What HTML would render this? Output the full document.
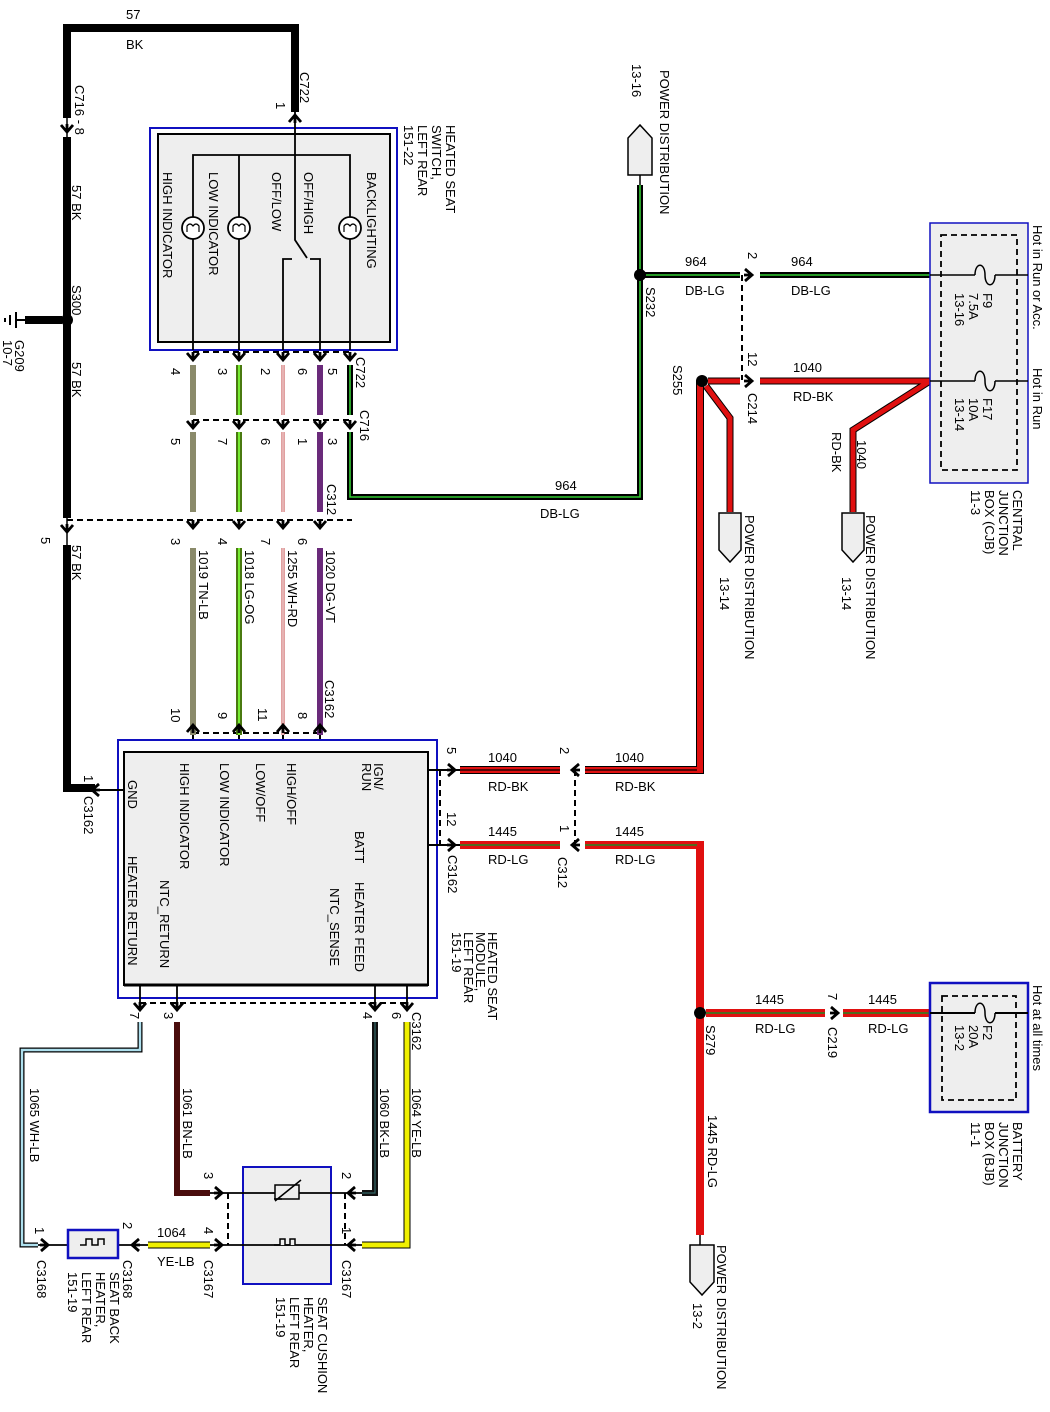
<!DOCTYPE html>
<html><head><meta charset="utf-8"><style>
html,body{margin:0;padding:0;background:#fff}
svg{display:block}
text{font-family:"Liberation Sans",sans-serif;font-size:13px;fill:#000}
</style></head><body>
<svg width="1050" height="1412" viewBox="0 0 1050 1412" xmlns="http://www.w3.org/2000/svg">
<defs>
<path id="ad" d="M-6,-7 L0,0 L6,-7 M0,0 V-8" fill="none" stroke="#000" stroke-width="2.8"/>
</defs>
<g fill="none" stroke-linejoin="miter">
<!-- 57 BK loop -->
<path d="M67,118 V28 H295 V112" stroke="#000" stroke-width="8"/>
<path d="M67,137 V518" stroke="#000" stroke-width="8"/>
<path d="M67,545 V788 H95" stroke="#000" stroke-width="8"/>
<path d="M67,118 V137 M67,518 V545" stroke="#000" stroke-width="1.5"/>
<path d="M25,320 H62" stroke="#000" stroke-width="8"/>
<path d="M16,320 H26 M16,312 V328 M10,315 V325 M5,318 V322" stroke="#000" stroke-width="2"/>
<!-- switch box -->
<rect x="150" y="128" width="247" height="222" fill="#fff" stroke="#1010c0" stroke-width="2"/>
<rect x="158" y="134" width="232" height="208" fill="#eeeeee" stroke="#000" stroke-width="2"/>
<path d="M193,350 V155 H350 V350 M239,155 V350 M295,112 V240 L307,258 M283,350 V259 H292 M320,350 V259 H310" stroke="#000" stroke-width="1.8"/>
<circle cx="193" cy="228" r="11" fill="#fff" stroke="#000" stroke-width="1.8"/>
<circle cx="239" cy="228" r="11" fill="#fff" stroke="#000" stroke-width="1.8"/>
<circle cx="350" cy="228" r="11" fill="#fff" stroke="#000" stroke-width="1.8"/>
<path d="M187,232 V226 Q190,222 193,226 Q196,222 199,226 V232 M233,232 V226 Q236,222 239,226 Q242,222 245,226 V232 M344,232 V226 Q347,222 350,226 Q353,222 356,226 V232" stroke="#000" stroke-width="1.2"/>
<!-- dashed connectors -->
<path d="M193,352 H352 M193,420 H352 M67,520 H352 M193,733 H322 M440,770 V845 M575,770 V845 M140,1003 H408 M742,275 V380 M228,1193 V1245 M345,1193 V1245" stroke="#000" stroke-width="2" stroke-dasharray="6,4"/>
<!-- switch to module wires -->
<path d="M193,365 V415 M193,432 V512 M193,548 V735" stroke="#8a8a6a" stroke-width="6"/>
<path d="M239,365 V415 M239,432 V512 M239,548 V735" stroke="#4a7a10" stroke-width="6"/>
<path d="M239,365 V415 M239,432 V512 M239,548 V735" stroke="#77ee33" stroke-width="2"/>
<path d="M283,365 V415 M283,432 V512 M283,548 V735" stroke="#c04040" stroke-width="3"/>
<path d="M283,365 V415 M283,432 V512 M283,548 V735" stroke="#fff" stroke-width="1.2"/>
<path d="M320,365 V415 M320,432 V512 M320,548 V735" stroke="#6a2a7a" stroke-width="6"/>
<path d="M350,365 V415 M350,432 V497 H640 V185" stroke="#000" stroke-width="6"/>
<path d="M350,365 V415 M350,432 V497 H640 V185" stroke="#33cc33" stroke-width="1.6"/>
<path d="M640,175 V185" stroke="#000" stroke-width="1.5"/>
<path d="M193,735 V752 M239,735 V752 M283,735 V752 M320,735 V752" stroke="#000" stroke-width="2"/>
<!-- module -->
<rect x="118" y="740" width="319" height="258" fill="#fff" stroke="#1010c0" stroke-width="2"/>
<rect x="124" y="752" width="304" height="233" fill="#eeeeee" stroke="#000" stroke-width="2"/>
<path d="M124,985 H428" stroke="#000" stroke-width="3"/>
<path d="M124,790 H95" stroke="#000" stroke-width="2"/>
<path d="M428,770 H460 M428,845 H460" stroke="#000" stroke-width="2"/>
<!-- red wires -->
<path d="M460,770 H560 M585,770 H700 V381" stroke="#000" stroke-width="8"/>
<path d="M460,770 H560 M585,770 H700 V381" stroke="#e01010" stroke-width="6"/>
<path d="M460,770 H560 M585,770 H697" stroke="#000" stroke-width="1.2"/>
<path d="M460,845 H560 M585,845 H700 V1235" stroke="#e01010" stroke-width="8"/>
<path d="M460,845 H560 M585,845 H697" stroke="#228822" stroke-width="1.6"/>
<path d="M706,1013 H825 M843,1013 H930" stroke="#e01010" stroke-width="8"/>
<path d="M706,1013 H825 M843,1013 H930" stroke="#228822" stroke-width="1.6"/>
<path d="M700,1235 V1245" stroke="#000" stroke-width="1.5"/>
<!-- top right -->
<path d="M645,275 H740 M760,275 H930" stroke="#000" stroke-width="6"/>
<path d="M645,275 H740 M760,275 H930" stroke="#33cc33" stroke-width="1.6"/>
<path d="M708,381 H740 M760,381 H930 L853,430 V512" stroke="#000" stroke-width="7"/>
<path d="M708,381 H740 M760,381 H930 L853,430 V512" stroke="#e01010" stroke-width="5"/>
<path d="M706,386 L730,418 V512" stroke="#000" stroke-width="7"/>
<path d="M706,386 L730,418 V512" stroke="#e01010" stroke-width="5"/>
<!-- CJB -->
<rect x="930" y="223" width="98" height="260" fill="#eeeeee" stroke="#1010c0" stroke-width="1.5"/>
<rect x="941" y="235" width="76" height="235" stroke="#000" stroke-width="1.8" stroke-dasharray="6,4"/>
<path d="M930,275 H975 M995,275 H1028 M930,381 H975 M995,381 H1028" stroke="#000" stroke-width="1.5"/>
<path d="M975,275 C975,262 985,262 985,275 C985,288 995,288 995,275 M975,381 C975,368 985,368 985,381 C985,394 995,394 995,381" stroke="#000" stroke-width="1.5"/>
<!-- BJB -->
<rect x="930" y="983" width="98" height="129" fill="#eeeeee" stroke="#1010c0" stroke-width="2.5"/>
<rect x="942" y="996" width="74" height="104" stroke="#000" stroke-width="1.8" stroke-dasharray="6,4"/>
<path d="M930,1013 H975 M995,1013 H1028" stroke="#000" stroke-width="2"/>
<path d="M975,1013 C975,1000 985,1000 985,1013 C985,1026 995,1026 995,1013" stroke="#000" stroke-width="1.5"/>
<!-- power distribution shapes -->
<path d="M628,175 V138 L640,125 L652,138 V175 Z" fill="#eeeeee" stroke="#000" stroke-width="1.5"/>
<path d="M719,513 V550 L730,562 L741,550 V513 Z" fill="#eeeeee" stroke="#000" stroke-width="1.5"/>
<path d="M842,513 V550 L853,562 L864,550 V513 Z" fill="#eeeeee" stroke="#000" stroke-width="1.5"/>
<path d="M690,1245 V1282 L702,1295 L714,1282 V1245 Z" fill="#eeeeee" stroke="#000" stroke-width="1.5"/>
<!-- bottom wires -->
<path d="M140,985 V1005 M177,985 V1005 M375,985 V1005 M407,985 V1005" stroke="#000" stroke-width="1.8"/>
<path d="M140,1022 V1050 H22 V1245 H38" stroke="#000" stroke-width="5"/>
<path d="M140,1022 V1050 H22 V1245 H38" stroke="#aee0ee" stroke-width="2.5"/>
<path d="M177,1022 V1193 H210" stroke="#4a0d0d" stroke-width="6"/>
<path d="M375,1022 V1193 H362" stroke="#111" stroke-width="6"/>
<path d="M375,1022 V1193 H362" stroke="#336666" stroke-width="1.2"/>
<path d="M407,1022 V1245 H362" stroke="#000" stroke-width="7"/>
<path d="M407,1022 V1245 H362" stroke="#f0f000" stroke-width="5"/>
<path d="M148,1245 H210" stroke="#000" stroke-width="7"/>
<path d="M148,1245 H210" stroke="#f0f000" stroke-width="5"/>
<rect x="243" y="1167" width="88" height="117" fill="#eeeeee" stroke="#1010c0" stroke-width="2"/>
<path d="M210,1193 H362 M210,1245 H362 M38,1245 H148" stroke="#000" stroke-width="1.8"/>
<rect x="275" y="1185" width="24" height="14" fill="#eeeeee" stroke="#000" stroke-width="1.5"/>
<path d="M275,1201 L301,1180 M274,1199 H282" stroke="#000" stroke-width="1.5"/>
<path d="M274,1245 H280 V1239 H285 V1245 H290 V1239 H295 V1245" stroke="#000" stroke-width="1.5" fill="#eeeeee"/>
<rect x="68" y="1230" width="50" height="28" fill="#eeeeee" stroke="#1010c0" stroke-width="2.5"/>
<path d="M80,1245 H86 V1239 H92 V1245 H98 V1239 H104 V1245" stroke="#000" stroke-width="1.5"/>
</g>
<!-- dots -->
<circle cx="67" cy="320" r="6"/><circle cx="640" cy="275" r="6"/><circle cx="702" cy="381" r="6"/><circle cx="700" cy="1013" r="6"/>
<!-- arrows -->
<g>
<use href="#ad" x="67" y="132"/><use href="#ad" x="67" y="532"/>
<use href="#ad" x="193" y="360"/><use href="#ad" x="239" y="360"/><use href="#ad" x="283" y="360"/><use href="#ad" x="320" y="360"/><use href="#ad" x="350" y="360"/>
<use href="#ad" x="193" y="428"/><use href="#ad" x="239" y="428"/><use href="#ad" x="283" y="428"/><use href="#ad" x="320" y="428"/><use href="#ad" x="350" y="428"/>
<use href="#ad" x="193" y="528"/><use href="#ad" x="239" y="528"/><use href="#ad" x="283" y="528"/><use href="#ad" x="320" y="528"/>
<use href="#ad" x="140" y="1010"/><use href="#ad" x="177" y="1010"/><use href="#ad" x="375" y="1010"/><use href="#ad" x="407" y="1010"/>
<use href="#ad" transform="translate(295,115) rotate(180)"/>
<use href="#ad" transform="translate(193,725) rotate(180)"/><use href="#ad" transform="translate(239,725) rotate(180)"/><use href="#ad" transform="translate(283,725) rotate(180)"/><use href="#ad" transform="translate(320,725) rotate(180)"/>
<use href="#ad" transform="translate(92,790) rotate(90)"/>
<use href="#ad" transform="translate(455,770) rotate(-90)"/><use href="#ad" transform="translate(455,845) rotate(-90)"/>
<use href="#ad" transform="translate(572,770) rotate(90)"/><use href="#ad" transform="translate(572,845) rotate(90)"/>
<use href="#ad" transform="translate(752,275) rotate(-90)"/><use href="#ad" transform="translate(752,381) rotate(-90)"/>
<use href="#ad" transform="translate(838,1013) rotate(-90)"/>
<use href="#ad" transform="translate(48,1245) rotate(-90)"/><use href="#ad" transform="translate(132,1245) rotate(90)"/>
<use href="#ad" transform="translate(222,1193) rotate(-90)"/><use href="#ad" transform="translate(222,1245) rotate(-90)"/>
<use href="#ad" transform="translate(348,1193) rotate(90)"/><use href="#ad" transform="translate(348,1245) rotate(90)"/>
</g>
<!-- horizontal text -->
<text x="126" y="19">57</text><text x="126" y="49">BK</text>
<text x="555" y="490">964</text><text x="540" y="518">DB-LG</text>
<text x="685" y="266">964</text><text x="685" y="295">DB-LG</text>
<text x="791" y="266">964</text><text x="791" y="295">DB-LG</text>
<text x="793" y="372">1040</text><text x="793" y="401">RD-BK</text>
<text x="488" y="762">1040</text><text x="488" y="791">RD-BK</text>
<text x="615" y="762">1040</text><text x="615" y="791">RD-BK</text>
<text x="488" y="836">1445</text><text x="488" y="864">RD-LG</text>
<text x="615" y="836">1445</text><text x="615" y="864">RD-LG</text>
<text x="755" y="1004">1445</text><text x="755" y="1033">RD-LG</text>
<text x="868" y="1004">1445</text><text x="868" y="1033">RD-LG</text>
<text x="157" y="1237">1064</text><text x="157" y="1266">YE-LB</text>
<g>
<text transform="translate(446,125) rotate(90)"><tspan x="0">HEATED SEAT</tspan><tspan x="0" dy="14">SWITCH,</tspan><tspan x="0" dy="14">LEFT REAR</tspan><tspan x="0" dy="14">151-22</tspan></text>
<text transform="translate(163,172) rotate(90)">HIGH INDICATOR</text>
<text transform="translate(209,172) rotate(90)">LOW INDICATOR</text>
<text transform="translate(272,172) rotate(90)">OFF/LOW</text>
<text transform="translate(304,172) rotate(90)">OFF/HIGH</text>
<text transform="translate(367,172) rotate(90)">BACKLIGHTING</text>
<text transform="translate(75,85) rotate(90)">C716 - 8</text>
<text transform="translate(72,185) rotate(90)">57  BK</text>
<text transform="translate(72,285) rotate(90)">S300</text>
<text transform="translate(72,362) rotate(90)">57  BK</text>
<text transform="translate(72,545) rotate(90)">57  BK</text>
<text transform="translate(41,537) rotate(90)">5</text>
<text transform="translate(15,340) rotate(90)"><tspan x="0">G209</tspan><tspan x="0" dy="12">10-7</tspan></text>
<text transform="translate(300,72) rotate(90)">C722</text>
<text transform="translate(276,102) rotate(90)">1</text>
<text transform="translate(171,368) rotate(90)">4</text><text transform="translate(218,368) rotate(90)">3</text><text transform="translate(261,368) rotate(90)">2</text><text transform="translate(298,368) rotate(90)">6</text><text transform="translate(328,368) rotate(90)">5</text>
<text transform="translate(356,357) rotate(90)">C722</text>
<text transform="translate(171,438) rotate(90)">5</text><text transform="translate(218,438) rotate(90)">7</text><text transform="translate(261,438) rotate(90)">6</text><text transform="translate(298,438) rotate(90)">1</text><text transform="translate(328,438) rotate(90)">3</text>
<text transform="translate(360,410) rotate(90)">C716</text>
<text transform="translate(171,538) rotate(90)">3</text><text transform="translate(218,538) rotate(90)">4</text><text transform="translate(261,538) rotate(90)">7</text><text transform="translate(298,538) rotate(90)">6</text>
<text transform="translate(327,484) rotate(90)">C312</text>
<text transform="translate(199,550) rotate(90)">1019    TN-LB</text>
<text transform="translate(245,550) rotate(90)">1018    LG-OG</text>
<text transform="translate(288,550) rotate(90)">1255    WH-RD</text>
<text transform="translate(326,550) rotate(90)">1020    DG-VT</text>
<text transform="translate(325,680) rotate(90)">C3162</text>
<text transform="translate(171,708) rotate(90)">10</text><text transform="translate(218,712) rotate(90)">9</text><text transform="translate(258,708) rotate(90)">11</text><text transform="translate(298,712) rotate(90)">8</text>
<text transform="translate(84,775) rotate(90)">1</text>
<text transform="translate(84,796) rotate(90)">C3162</text>
<text transform="translate(128,780) rotate(90)">GND</text>
<text transform="translate(128,856) rotate(90)">HEATER RETURN</text>
<text transform="translate(160,880) rotate(90)">NTC_RETURN</text>
<text transform="translate(180,763) rotate(90)">HIGH INDICATOR</text>
<text transform="translate(220,763) rotate(90)">LOW INDICATOR</text>
<text transform="translate(256,763) rotate(90)">LOW/OFF</text>
<text transform="translate(287,763) rotate(90)">HIGH/OFF</text>
<text transform="translate(374,763) rotate(90)"><tspan x="0">IGN/</tspan><tspan x="0" dy="12">RUN</tspan></text>
<text transform="translate(355,831) rotate(90)">BATT</text>
<text transform="translate(355,882) rotate(90)">HEATER FEED</text>
<text transform="translate(330,888) rotate(90)">NTC_SENSE</text>
<text transform="translate(447,747) rotate(90)">5</text>
<text transform="translate(447,812) rotate(90)">12</text>
<text transform="translate(448,855) rotate(90)">C3162</text>
<text transform="translate(560,747) rotate(90)">2</text>
<text transform="translate(560,825) rotate(90)">1</text>
<text transform="translate(558,857) rotate(90)">C312</text>
<text transform="translate(488,932) rotate(90)"><tspan x="0">HEATED SEAT</tspan><tspan x="0" dy="12">MODULE,</tspan><tspan x="0" dy="12">LEFT REAR</tspan><tspan x="0" dy="12">151-19</tspan></text>
<text transform="translate(130,1012) rotate(90)">7</text><text transform="translate(164,1012) rotate(90)">3</text><text transform="translate(363,1012) rotate(90)">4</text><text transform="translate(392,1012) rotate(90)">6</text>
<text transform="translate(412,1012) rotate(90)">C3162</text>
<text transform="translate(30,1088) rotate(90)">1065      WH-LB</text>
<text transform="translate(183,1088) rotate(90)">1061      BN-LB</text>
<text transform="translate(380,1088) rotate(90)">1060      BK-LB</text>
<text transform="translate(412,1088) rotate(90)">1064      YE-LB</text>
<text transform="translate(204,1172) rotate(90)">3</text><text transform="translate(342,1172) rotate(90)">2</text>
<text transform="translate(35,1227) rotate(90)">1</text><text transform="translate(123,1222) rotate(90)">2</text><text transform="translate(204,1227) rotate(90)">4</text><text transform="translate(342,1227) rotate(90)">1</text>
<text transform="translate(37,1260) rotate(90)">C3168</text>
<text transform="translate(123,1260) rotate(90)">C3168</text>
<text transform="translate(204,1260) rotate(90)">C3167</text>
<text transform="translate(342,1260) rotate(90)">C3167</text>
<text transform="translate(110,1272) rotate(90)"><tspan x="0">SEAT BACK</tspan><tspan x="0" dy="14">HEATER,</tspan><tspan x="0" dy="14">LEFT REAR</tspan><tspan x="0" dy="14">151-19</tspan></text>
<text transform="translate(318,1297) rotate(90)"><tspan x="0">SEAT CUSHION</tspan><tspan x="0" dy="14">HEATER,</tspan><tspan x="0" dy="14">LEFT REAR</tspan><tspan x="0" dy="14">151-19</tspan></text>
<text transform="translate(660,70) rotate(90)">POWER DISTRIBUTION</text>
<text transform="translate(632,64) rotate(90)">13-16</text>
<text transform="translate(646,287) rotate(90)">S232</text>
<text transform="translate(673,365) rotate(90)">S255</text>
<text transform="translate(748,252) rotate(90)">2</text>
<text transform="translate(748,352) rotate(90)">12</text>
<text transform="translate(748,393) rotate(90)">C214</text>
<text transform="translate(745,515) rotate(90)">POWER DISTRIBUTION</text>
<text transform="translate(720,577) rotate(90)">13-14</text>
<text transform="translate(866,515) rotate(90)">POWER DISTRIBUTION</text>
<text transform="translate(842,577) rotate(90)">13-14</text>
<text transform="translate(857,440) rotate(90)">1040</text>
<text transform="translate(832,432) rotate(90)">RD-BK</text>
<text transform="translate(983,293) rotate(90)"><tspan x="0">F9</tspan><tspan x="0" dy="14">7.5A</tspan><tspan x="0" dy="14">13-16</tspan></text>
<text transform="translate(983,398) rotate(90)"><tspan x="0">F17</tspan><tspan x="0" dy="14">10A</tspan><tspan x="0" dy="14">13-14</tspan></text>
<text transform="translate(1033,225) rotate(90)">Hot in Run or Acc.</text>
<text transform="translate(1033,368) rotate(90)">Hot in Run</text>
<text transform="translate(1013,490) rotate(90)"><tspan x="0">CENTRAL</tspan><tspan x="0" dy="14">JUNCTION</tspan><tspan x="0" dy="14">BOX (CJB)</tspan><tspan x="0" dy="14">11-3</tspan></text>
<text transform="translate(706,1025) rotate(90)">S279</text>
<text transform="translate(828,993) rotate(90)">7</text>
<text transform="translate(828,1027) rotate(90)">C219</text>
<text transform="translate(983,1025) rotate(90)"><tspan x="0">F2</tspan><tspan x="0" dy="14">20A</tspan><tspan x="0" dy="14">13-2</tspan></text>
<text transform="translate(1033,985) rotate(90)">Hot at all times</text>
<text transform="translate(1013,1122) rotate(90)"><tspan x="0">BATTERY</tspan><tspan x="0" dy="14">JUNCTION</tspan><tspan x="0" dy="14">BOX (BJB)</tspan><tspan x="0" dy="14">11-1</tspan></text>
<text transform="translate(708,1115) rotate(90)">1445      RD-LG</text>
<text transform="translate(717,1245) rotate(90)">POWER DISTRIBUTION</text>
<text transform="translate(693,1303) rotate(90)">13-2</text>
</g>
</svg>
</body></html>
